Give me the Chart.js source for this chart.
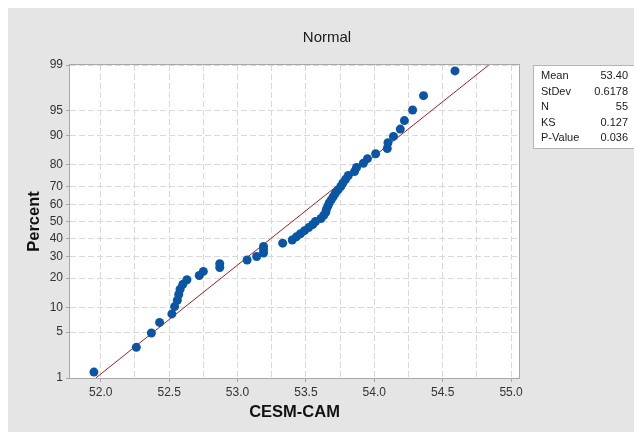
<!DOCTYPE html>
<html>
<head>
<meta charset="utf-8">
<script src="https://cdn.jsdelivr.net/npm/chart.js@4.4.1/dist/chart.umd.min.js"></script>
<style>
html,body{margin:0;padding:0;background:#fff;}
#wrap{width:634px;height:432px;}
</style>
</head>
<body>
<div id="wrap"><canvas id="probPlot" width="634" height="432"></canvas></div>
<script>
// normal probability plot, y axis is in z units, labelled in percent
const TITLE = 'Normal';
const X_LABEL = 'CESM-CAM';
const Y_LABEL = 'Percent';

// sorted sample values
const VALUES = [
  51.95, 52.26, 52.37, 52.43, 52.52, 52.54, 52.56, 52.57, 52.58, 52.60,
  52.63, 52.72, 52.75, 52.87, 52.87, 53.07, 53.14, 53.19, 53.19, 53.19,
  53.33, 53.40, 53.43, 53.46, 53.49, 53.52, 53.55, 53.57, 53.61, 53.63,
  53.645, 53.65, 53.66, 53.67, 53.685, 53.70, 53.715, 53.735, 53.755, 53.77,
  53.79, 53.81, 53.855, 53.87, 53.92, 53.95, 54.01, 54.095, 54.10, 54.14,
  54.19, 54.22, 54.28, 54.36, 54.59
];
// plotted percent for each point
const PERCENTS = [
  1.26, 3.07, 4.87, 6.68, 8.48, 10.29, 12.09, 13.90, 15.70, 17.51,
  19.31, 21.12, 22.92, 24.73, 26.53, 28.34, 30.14, 31.95, 33.75, 35.56,
  37.36, 39.17, 40.97, 42.78, 44.58, 46.39, 48.19, 50.00, 51.81, 53.61,
  55.42, 57.22, 59.03, 60.83, 62.64, 64.44, 66.25, 68.05, 69.86, 71.66,
  73.47, 75.27, 77.08, 78.88, 80.69, 82.49, 84.30, 86.10, 87.91, 89.71,
  91.52, 93.32, 95.13, 96.93, 98.74
];
// fitted line ends
const FIT_X = [51.963, 54.837];
const FIT_PCT = [1, 99];

const X_TICKS = [52, 52.25, 52.5, 52.75, 53, 53.25, 53.5, 53.75, 54, 54.25, 54.5, 54.75, 55];
const Y_TICKS = [1, 5, 10, 20, 30, 40, 50, 60, 70, 80, 90, 95, 99];
const X_MIN = 51.775, X_MAX = 55.058;

const STAT_LABELS = ['Mean', 'StDev', 'N', 'KS', 'P-Value'];
const STAT_VALUES = ['53.40', '0.6178', '55', '0.127', '0.036'];

// inverse normal cdf (Acklam)
function normInv(p){
  const a=[-3.969683028665376e+01,2.209460984245205e+02,-2.759285104469687e+02,1.383577518672690e+02,-3.066479806614716e+01,2.506628277459239e+00];
  const b=[-5.447609879822406e+01,1.615858368580409e+02,-1.556989798598866e+02,6.680131188771972e+01,-1.328068155288572e+01];
  const c=[-7.784894002430293e-03,-3.223964580411365e-01,-2.400758277161838e+00,-2.549732539343734e+00,4.374664141464968e+00,2.938163982698783e+00];
  const d=[7.784695709041462e-03,3.224671290700398e-01,2.445134137142996e+00,3.754408661907416e+00];
  const pl = 0.02425, ph = 1 - pl;
  let q, r;
  if(p < pl){
    q = Math.sqrt(-2*Math.log(p));
    return (((((c[0]*q+c[1])*q+c[2])*q+c[3])*q+c[4])*q+c[5])/((((d[0]*q+d[1])*q+d[2])*q+d[3])*q+1);
  }
  if(p > ph){
    q = Math.sqrt(-2*Math.log(1-p));
    return -(((((c[0]*q+c[1])*q+c[2])*q+c[3])*q+c[4])*q+c[5])/((((d[0]*q+d[1])*q+d[2])*q+d[3])*q+1);
  }
  q = p - 0.5; r = q*q;
  return (((((a[0]*r+a[1])*r+a[2])*r+a[3])*r+a[4])*r+a[5])*q/(((((b[0]*r+b[1])*r+b[2])*r+b[3])*r+b[4])*r+1);
}
const z = pct => normInv(pct / 100);

const FONT = "'Liberation Sans', Arial, sans-serif";
Chart.defaults.font.family = FONT;

const framePlugin = {
  id: 'frame',
  beforeDraw(chart){
    const {ctx, width, height, chartArea: ca} = chart;
    ctx.save();
    ctx.fillStyle = '#ffffff';
    ctx.fillRect(0, 0, width, height);
    ctx.fillStyle = '#e5e5e5';
    ctx.fillRect(8, 8, width - 8, height - 8);
    ctx.fillStyle = '#ffffff';
    ctx.fillRect(ca.left, ca.top, ca.right - ca.left, ca.bottom - ca.top);
    ctx.restore();
  },
  beforeDatasetsDraw(chart){
    const {ctx, chartArea: ca} = chart;
    ctx.save();
    ctx.strokeStyle = '#a8a8a8';
    ctx.lineWidth = 1;
    ctx.strokeRect(Math.round(ca.left) - 0.5, Math.round(ca.top) - 0.5,
      Math.round(ca.right - ca.left) + 1, Math.round(ca.bottom - ca.top) + 1);
    ctx.restore();
  },
  afterDraw(chart){
    const {ctx} = chart;
    ctx.save();
    // title
    ctx.fillStyle = '#1a1a1a';
    ctx.font = '15px ' + FONT;
    ctx.textAlign = 'center';
    ctx.textBaseline = 'middle';
    ctx.fillText(TITLE, 327, 38);
    // stats box
    ctx.fillStyle = '#ffffff';
    ctx.fillRect(533.5, 65.5, 110, 83);
    ctx.strokeStyle = '#b4b4b4';
    ctx.strokeRect(533.5, 65.5, 110, 83);
    ctx.fillStyle = '#1a1a1a';
    ctx.font = '11px ' + FONT;
    STAT_LABELS.forEach((lab, i) => {
      const y = 76 + i * 15.5;
      ctx.textAlign = 'left';
      ctx.fillText(lab, 541, y);
      ctx.textAlign = 'right';
      ctx.fillText(STAT_VALUES[i], 628, y);
    });
    ctx.restore();
  }
};

const ctx = document.getElementById('probPlot').getContext('2d');
new Chart(ctx, {
  type: 'scatter',
  data: {
    datasets: [
      {
        label: 'data',
        data: VALUES.map((v, i) => ({x: v, y: z(PERCENTS[i])})),
        backgroundColor: '#0a56a5',
        borderWidth: 0,
        pointRadius: 4.5,
        pointHoverRadius: 4.5,
        order: 0
      },
      {
        label: 'fit',
        data: FIT_X.map((v, i) => ({x: v, y: z(FIT_PCT[i])})),
        showLine: true,
        borderColor: '#a61e1e',
        borderWidth: 1,
        pointRadius: 0,
        order: 1
      }
    ]
  },
  options: {
    responsive: false,
    animation: false,
    layout: {padding: {top: 65, right: 115, bottom: 0, left: 0}},
    plugins: {
      legend: {display: false},
      tooltip: {enabled: false}
    },
    scales: {
      x: {
        type: 'linear',
        min: X_MIN,
        max: X_MAX,
        afterBuildTicks: s => { s.ticks = X_TICKS.map(v => ({value: v})); },
        afterFit: s => { s.height = 54; },
        ticks: {
          autoSkip: false,
          maxRotation: 0,
          padding: 3,
          color: '#333',
          font: {size: 12},
          callback: v => (Math.abs(v * 2 - Math.round(v * 2)) < 1e-9) ? v.toFixed(1) : ''
        },
        grid: {
          color: '#d9d9d9',
          tickLength: 4,
          tickBorderDash: [],
          tickColor: c => (c.tick && Math.abs(c.tick.value * 2 - Math.round(c.tick.value * 2)) < 1e-9) ? '#a8a8a8' : 'rgba(0,0,0,0)'
        },
        border: {display: false, dash: [6, 3]},
        title: {
          display: true,
          text: X_LABEL,
          color: '#111',
          font: {size: 16.5, weight: 'bold'},
          padding: {top: 0, bottom: 10}
        }
      },
      y: {
        type: 'linear',
        min: z(Y_TICKS[0]),
        max: z(Y_TICKS[Y_TICKS.length - 1]),
        afterBuildTicks: s => { s.ticks = Y_TICKS.map(p => ({value: z(p)})); },
        afterFit: s => { s.width = 70; },
        ticks: {
          autoSkip: false,
          padding: 3,
          color: '#333',
          font: {size: 12},
          callback: (v, i) => String(Y_TICKS[i])
        },
        grid: {
          color: '#d9d9d9',
          tickLength: 4,
          tickBorderDash: [],
          tickColor: '#a8a8a8'
        },
        border: {display: false, dash: [6, 3]},
        title: {
          display: true,
          text: Y_LABEL,
          color: '#111',
          font: {size: 16.5, weight: 'bold'},
          padding: {top: 25, bottom: 0}
        }
      }
    }
  },
  plugins: [framePlugin]
});
</script>
</body>
</html>
